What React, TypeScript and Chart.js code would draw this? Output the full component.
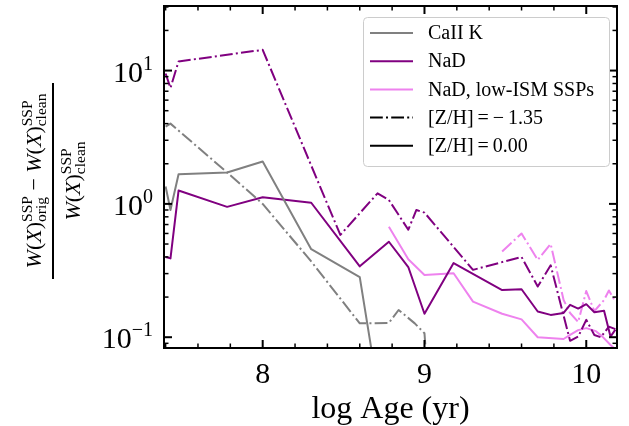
import React, { useEffect, useRef } from "react";
import { Chart, registerables } from "chart.js";

Chart.register(...registerables);

const SERIF = '"Liberation Serif", "Times New Roman", Times, serif';

// Fractional change of the index equivalent width vs. log age, per index and metallicity
const caKPoorAge = [7.40, 7.43, 7.78, 8.00, 8.30, 8.60, 8.78, 8.84, 8.94, 9.00, 9.18];
const caKPoorDiff = [3.8, 4.0, 1.72, 1.0, 0.37, 0.127, 0.128, 0.16, 0.127, 0.107, 0.0001];

const caKSolarAge = [7.40, 7.43, 7.48, 7.78, 8.00, 8.30, 8.60, 8.70];
const caKSolarDiff = [1.35, 0.9, 1.67, 1.72, 2.08, 0.457, 0.282, 0.05];

const naDPoorAge = [7.40, 7.43, 7.48, 8.00, 8.48, 8.71, 8.78, 8.90, 8.95, 9.00, 9.30, 9.60, 9.70, 9.78, 9.90, 9.95, 10.00, 10.05, 10.09, 10.14, 10.18];
const naDPoorDiff = [9.5, 7.4, 11.7, 14.3, 0.585, 1.2, 1.07, 0.64, 0.9, 0.86, 0.32, 0.4, 0.24, 0.346, 0.094, 0.101, 0.135, 0.104, 0.1, 0.12, 0.115];

const naDSolarAge = [7.40, 7.43, 7.48, 7.78, 8.00, 8.30, 8.60, 8.78, 8.90, 9.00, 9.18, 9.48, 9.60, 9.70, 9.78, 9.86, 9.90, 9.95, 10.00, 10.05, 10.11, 10.15, 10.18];
const naDSolarDiff = [0.4, 0.39, 1.26, 0.95, 1.12, 1.02, 0.34, 0.52, 0.336, 0.15, 0.36, 0.226, 0.229, 0.156, 0.147, 0.152, 0.175, 0.164, 0.177, 0.154, 0.158, 0.101, 0.114];

const naDLowIsmPoorAge = [9.48, 9.60, 9.70, 9.78, 9.86, 9.90, 9.95, 10.00, 10.05, 10.11, 10.14, 10.18];
const naDLowIsmPoorDiff = [0.44, 0.6, 0.38, 0.5, 0.19, 0.152, 0.13, 0.222, 0.157, 0.19, 0.224, 0.185];

const naDLowIsmSolarAge = [8.78, 8.90, 9.00, 9.18, 9.30, 9.48, 9.60, 9.70, 9.86, 9.90, 9.95, 10.00, 10.06, 10.10, 10.15, 10.18];
const naDLowIsmSolarDiff = [0.675, 0.384, 0.293, 0.302, 0.185, 0.15, 0.136, 0.1, 0.097, 0.104, 0.113, 0.117, 0.111, 0.101, 0.0875, 0.081];

// Axis ranges and ticks
const X_MIN = 7.39;
const X_MAX = 10.19;
const Y_MIN = 0.083;
const Y_MAX = 30.5;
const xTickValues = [8, 9, 10];
const yTickExponents = [-1, 0, 1];

const legendLabels = ["CaII K", "NaD", "NaD, low-ISM SSPs", "[Z/H]\u2009=\u2009\u2212\u20091.35", "[Z/H]\u2009=\u20090.00"];

const GRAY = "#808080";
const PURPLE = "#800080";
const VIOLET = "#EE82EE";
const DASH_DOT = [12.8, 3.2, 2, 3.2];

const legendStyles = [
  { color: GRAY, dash: [] as number[] },
  { color: PURPLE, dash: [] as number[] },
  { color: VIOLET, dash: [] as number[] },
  { color: "#000", dash: DASH_DOT },
  { color: "#000", dash: [] as number[] },
];

function pts(xs: number[], ys: number[]) {
  return xs.map((x, i) => ({ x, y: ys[i] }));
}

function seg(ctx: CanvasRenderingContext2D, x1: number, y1: number, x2: number, y2: number) {
  ctx.beginPath();
  ctx.moveTo(x1, y1);
  ctx.lineTo(x2, y2);
  ctx.stroke();
}

type Run = { t: string; f: string; dy: number } | { stack: { t: string; f: string; dy: number }[] };

function runsWidth(ctx: CanvasRenderingContext2D, runs: Run[]) {
  let w = 0;
  for (const r of runs) {
    if ("stack" in r) {
      let m = 0;
      for (const s of r.stack) {
        ctx.font = s.f;
        m = Math.max(m, ctx.measureText(s.t).width);
      }
      w += m;
    } else {
      ctx.font = r.f;
      w += ctx.measureText(r.t).width;
    }
  }
  return w;
}

function drawRuns(ctx: CanvasRenderingContext2D, runs: Run[], u0: number, v: number) {
  let u = u0;
  for (const r of runs) {
    if ("stack" in r) {
      let m = 0;
      for (const s of r.stack) {
        ctx.font = s.f;
        ctx.fillText(s.t, u, v + s.dy);
        m = Math.max(m, ctx.measureText(s.t).width);
      }
      u += m;
    } else {
      ctx.font = r.f;
      ctx.fillText(r.t, u, v + r.dy);
      u += ctx.measureText(r.t).width;
    }
  }
}

const BASE = 22;
const SCRIPT = 15.5;
const fMain = `${BASE}px ${SERIF}`;
const fItal = `italic ${BASE}px ${SERIF}`;
const fScript = `${SCRIPT}px ${SERIF}`;

function wx(): Run[] {
  return [
    { t: "W", f: fItal, dy: 0 },
    { t: "(", f: fMain, dy: 0 },
    { t: "X", f: fItal, dy: 0 },
    { t: ")", f: fMain, dy: 0 },
  ];
}

function ssp(sub: string): Run {
  return {
    stack: [
      { t: "SSP", f: fScript, dy: -9 },
      { t: sub, f: fScript, dy: 5 },
    ],
  };
}

const decorPlugin = {
  id: "decor",
  afterDraw(chart: any) {
    const ctx: CanvasRenderingContext2D = chart.ctx;
    const a = chart.chartArea;
    const xs = chart.scales.x;
    const ys = chart.scales.y;
    ctx.save();
    ctx.strokeStyle = "#000";
    ctx.fillStyle = "#000";
    ctx.lineCap = "butt";

    // inward ticks on all four sides
    for (let k = Math.ceil(X_MIN * 5); k <= Math.floor(X_MAX * 5); k++) {
      const v = k / 5;
      const major = k % 5 === 0;
      const px = xs.getPixelForValue(v);
      const len = major ? 8 : 4.5;
      ctx.lineWidth = major ? 2 : 1.5;
      seg(ctx, px, a.bottom, px, a.bottom - len);
      seg(ctx, px, a.top, px, a.top + len);
    }
    for (let e = -2; e <= 2; e++) {
      for (let m = 1; m <= 9; m++) {
        const v = m * Math.pow(10, e);
        if (v < Y_MIN || v > Y_MAX) continue;
        const major = m === 1;
        const py = ys.getPixelForValue(v);
        const len = major ? 8 : 4.5;
        ctx.lineWidth = major ? 2 : 1.5;
        seg(ctx, a.left, py, a.left + len, py);
        seg(ctx, a.right, py, a.right - len, py);
      }
    }

    // frame
    ctx.lineWidth = 2;
    ctx.strokeRect(a.left, a.top, a.right - a.left, a.bottom - a.top);

    // x tick labels
    ctx.font = `30px ${SERIF}`;
    ctx.textAlign = "center";
    ctx.textBaseline = "alphabetic";
    for (const v of xTickValues) {
      ctx.fillText(String(v), xs.getPixelForValue(v), a.bottom + 35);
    }

    // y tick labels (10^n)
    ctx.textAlign = "left";
    for (const e of yTickExponents) {
      const py = ys.getPixelForValue(Math.pow(10, e));
      const expText = e < 0 ? "\u2212" + Math.abs(e) : String(e);
      ctx.font = `20px ${SERIF}`;
      const wExp = ctx.measureText(expText).width;
      ctx.font = `30px ${SERIF}`;
      const wBase = ctx.measureText("10").width;
      const right = a.left - 11;
      ctx.fillText("10", right - wExp - wBase, py + 11);
      ctx.font = `20px ${SERIF}`;
      ctx.fillText(expText, right - wExp, py - 1);
    }

    // x axis title
    ctx.font = `32px ${SERIF}`;
    ctx.textAlign = "center";
    ctx.fillText("log Age (yr)", (a.left + a.right) / 2, 418);

    // y axis title as a fraction
    const cx = 53;
    const cy = 181;
    const num: Run[] = [...wx(), ssp("orig"), { t: " \u2212 ", f: fMain, dy: 0 }, ...wx(), ssp("clean")];
    const den: Run[] = [...wx(), ssp("clean")];
    ctx.save();
    ctx.translate(cx, cy);
    ctx.rotate(-Math.PI / 2);
    ctx.textAlign = "left";
    const wNum = runsWidth(ctx, num);
    const wDen = runsWidth(ctx, den);
    drawRuns(ctx, num, -wNum / 2, -12);
    drawRuns(ctx, den, -wDen / 2, 27);
    ctx.restore();
    ctx.lineWidth = 2;
    seg(ctx, cx, cy - 98, cx, cy + 98);

    // legend
    const bx = 363, by = 17, bw = 246, bh = 149;
    ctx.beginPath();
    ctx.roundRect(bx + 0.5, by + 0.5, bw, bh, 4);
    ctx.fillStyle = "rgba(255,255,255,0.8)";
    ctx.fill();
    ctx.strokeStyle = "#cccccc";
    ctx.lineWidth = 1;
    ctx.stroke();
    ctx.font = `20px ${SERIF}`;
    ctx.textBaseline = "middle";
    ctx.textAlign = "left";
    legendLabels.forEach((label, i) => {
      const yy = 33 + i * 28.2;
      const st = legendStyles[i];
      ctx.strokeStyle = st.color;
      ctx.lineWidth = 2;
      ctx.setLineDash(st.dash);
      seg(ctx, 370, yy, 413, yy);
      ctx.setLineDash([]);
      ctx.fillStyle = "#000";
      ctx.fillText(label, 428, yy + 1);
    });
    ctx.restore();
  },
};

function ds(label: string, xs: number[], ys: number[], color: string, dashed: boolean) {
  return {
    label,
    data: pts(xs, ys),
    borderColor: color,
    backgroundColor: color,
    borderWidth: 2,
    borderDash: dashed ? DASH_DOT : [],
    borderJoinStyle: "round" as const,
    borderCapStyle: "butt" as const,
    pointRadius: 0,
    tension: 0,
    fill: false,
    clip: 0,
  };
}

export default function App() {
  const ref = useRef<HTMLCanvasElement | null>(null);
  useEffect(() => {
    if (!ref.current) return;
    const chart = new Chart(ref.current, {
      type: "line",
      data: {
        datasets: [
          ds("CaII K, [Z/H]=-1.35", caKPoorAge, caKPoorDiff, GRAY, true),
          ds("CaII K, [Z/H]=0.00", caKSolarAge, caKSolarDiff, GRAY, false),
          ds("NaD, [Z/H]=-1.35", naDPoorAge, naDPoorDiff, PURPLE, true),
          ds("NaD, [Z/H]=0.00", naDSolarAge, naDSolarDiff, PURPLE, false),
          ds("NaD low-ISM, [Z/H]=-1.35", naDLowIsmPoorAge, naDLowIsmPoorDiff, VIOLET, true),
          ds("NaD low-ISM, [Z/H]=0.00", naDLowIsmSolarAge, naDLowIsmSolarDiff, VIOLET, false),
        ],
      },
      options: {
        responsive: false,
        maintainAspectRatio: false,
        animation: false,
        layout: { padding: { left: 164, right: 12, top: 6, bottom: 78 } },
        scales: {
          x: { type: "linear", min: X_MIN, max: X_MAX, display: false },
          y: { type: "logarithmic", min: Y_MIN, max: Y_MAX, display: false },
        },
        plugins: { legend: { display: false }, tooltip: { enabled: false } },
        events: [],
      },
      plugins: [decorPlugin],
    });
    return () => chart.destroy();
  }, []);
  return (
    <div style={{ position: "absolute", left: 0, top: 0, width: 629, height: 426, background: "#fff" }}>
      <canvas ref={ref} width={629} height={426} />
    </div>
  );
}
